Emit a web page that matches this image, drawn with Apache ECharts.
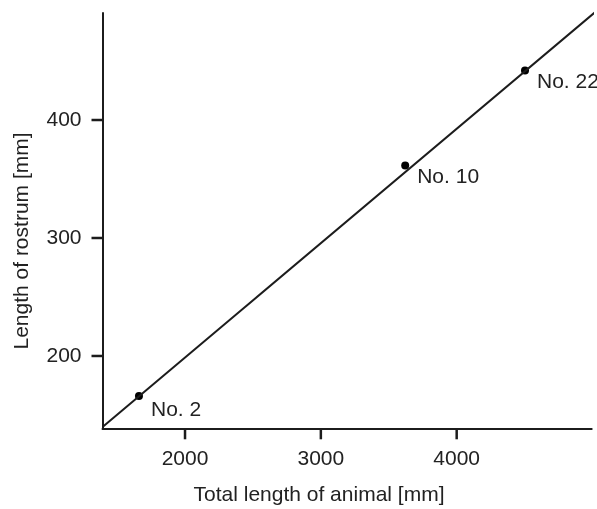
<!DOCTYPE html>
<html>
<head>
<meta charset="utf-8">
<script src="https://cdn.jsdelivr.net/npm/echarts@6/dist/echarts.min.js"></script>
<style>
  html, body { margin: 0; padding: 0; background: #fff; }
  #chart { width: 597px; height: 509px; }
</style>
</head>
<body>
<div id="chart"></div>
<script>
// Specimens: total body length vs. rostrum length (mm)
const specimenNames = ['No. 2', 'No. 10', 'No. 22'];
const totalLength = [1661, 3621, 4503];
const rostrumLength = [166, 361.5, 442];

// Fitted regression line, given by its two end points
const fitLineX = [1395, 5025];
const fitLineY = [140, 492];

// Tick values on each axis
const xTicks = [2000, 3000, 4000];
const yTicks = [200, 300, 400];

// Axis ranges
const X_MIN = 1392.5, X_MAX = 4994;
const Y_MIN = 138.7, Y_MAX = 490.7;

const FONT = '"Liberation Sans", Arial, Helvetica, sans-serif';
const INK = '#1c1c1c';
const TEXT = '#222';
const TICK_LEN = 11;

const labelDy = { 'No. 2': 14 };

const points = specimenNames.map((name, i) => ({
  name: name,
  value: [totalLength[i], rostrumLength[i]],
  label: { offset: [0, labelDy[name] !== undefined ? labelDy[name] : 12] }
}));

const axisNames = [
  {
    type: 'text',
    x: 319, y: 495,
    style: {
      text: 'Total length of animal [mm]',
      fill: TEXT, fontSize: 21, fontFamily: FONT,
      textAlign: 'center', textVerticalAlign: 'middle'
    }
  },
  {
    type: 'text',
    x: 22.5, y: 241,
    rotation: Math.PI / 2,
    style: {
      text: 'Length of rostrum [mm]',
      fill: TEXT, fontSize: 21, fontFamily: FONT,
      textAlign: 'center', textVerticalAlign: 'middle'
    }
  }
];

const chart = echarts.init(document.getElementById('chart'), null, { renderer: 'canvas' });

chart.setOption({
  animation: false,
  backgroundColor: '#ffffff',
  grid: { left: 102.5, right: 5.3, top: 13, bottom: 80.7, containLabel: false },
  xAxis: {
    type: 'value',
    min: X_MIN,
    max: X_MAX,
    splitLine: { show: false },
    axisLine: { show: true, onZero: false, lineStyle: { color: INK, width: 2 } },
    axisTick: { show: false },
    axisLabel: { customValues: xTicks, margin: 20, color: TEXT, fontSize: 21, fontFamily: FONT,
                 formatter: v => String(v) }
  },
  yAxis: {
    type: 'value',
    min: Y_MIN,
    max: Y_MAX,
    splitLine: { show: false },
    axisLine: { show: true, onZero: false, lineStyle: { color: INK, width: 2 } },
    axisTick: { show: false },
    axisLabel: { customValues: yTicks, margin: 21, color: TEXT, fontSize: 21, fontFamily: FONT,
                 formatter: v => String(v) }
  },
  graphic: axisNames,
  series: [
    {
      type: 'line',
      data: fitLineX.map((x, i) => [x, fitLineY[i]]),
      showSymbol: false,
      clip: false,
      lineStyle: { color: INK, width: 2 },
      silent: true
    },
    {
      type: 'scatter',
      data: points,
      symbol: 'circle',
      symbolSize: 8,
      itemStyle: { color: '#000', opacity: 1 },
      label: {
        show: true,
        position: 'right',
        distance: 8,
        formatter: '{b}',
        color: TEXT,
        fontSize: 21,
        fontFamily: FONT
      }
    }
  ]
});

// Outward tick marks, positioned through the axis scales
const tickMarks = [];
xTicks.forEach(v => {
  const p = chart.convertToPixel({ gridIndex: 0 }, [v, Y_MIN]);
  tickMarks.push({
    type: 'line',
    shape: { x1: p[0], y1: p[1], x2: p[0], y2: p[1] + TICK_LEN },
    style: { stroke: 'rgb(28,28,28)', lineWidth: 2.5 }
  });
});
yTicks.forEach(v => {
  const p = chart.convertToPixel({ gridIndex: 0 }, [X_MIN, v]);
  tickMarks.push({
    type: 'line',
    shape: { x1: p[0] - TICK_LEN, y1: p[1], x2: p[0], y2: p[1] },
    style: { stroke: 'rgb(28,28,28)', lineWidth: 2.5 }
  });
});
chart.setOption({ graphic: axisNames.concat(tickMarks) });
</script>
</body>
</html>
